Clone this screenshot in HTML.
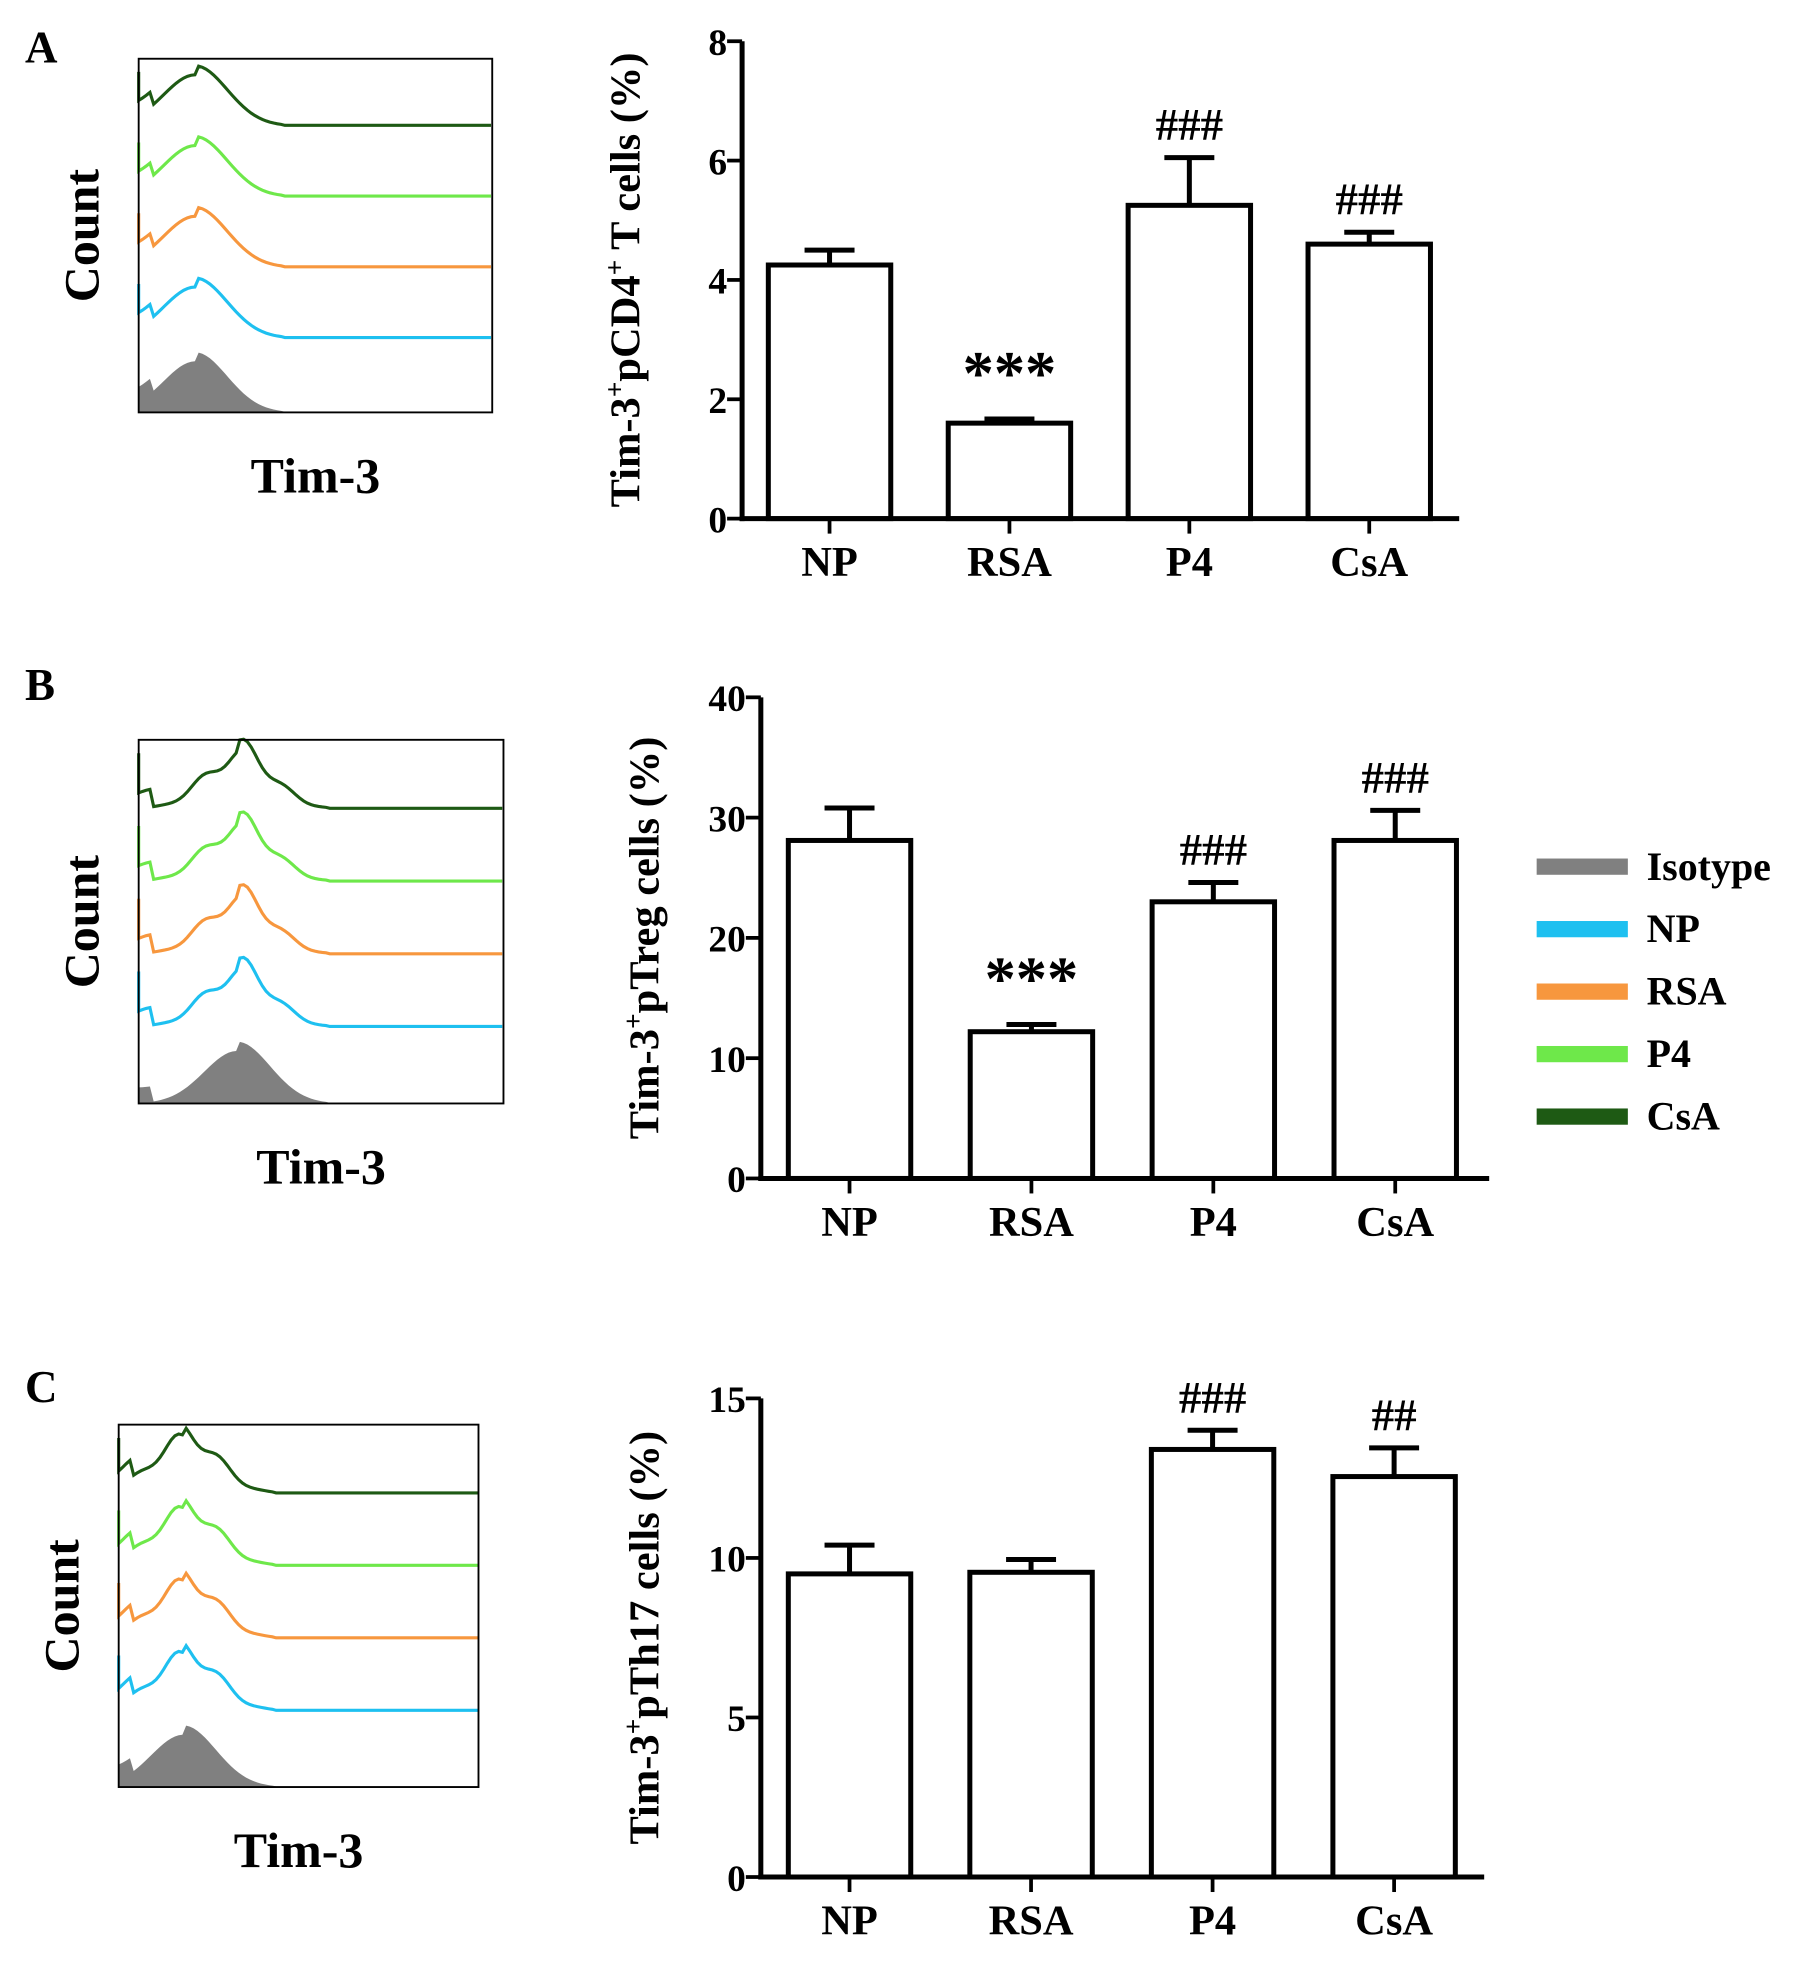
<!DOCTYPE html>
<html><head><meta charset="utf-8"><style>
html,body{margin:0;padding:0;background:#fff;}
svg{display:block;font-family:"Liberation Serif",serif;font-weight:bold;}
</style></head><body>
<svg id="fig" width="1819" height="1962" viewBox="0 0 1456 1570" preserveAspectRatio="none" xmlns="http://www.w3.org/2000/svg">
<text x="20" y="50" font-size="36">A</text>
<text x="20" y="560" font-size="36">B</text>
<text x="20" y="1122" font-size="36">C</text>
<g id="legend"></g>
</svg>
<script>
const categories = ["NP","RSA","P4","CsA"];
const valuesA = [4.25,1.6,5.25,4.6];
const errA = [0.25,0.07,0.8,0.2];
const valuesB = [28.1,12.2,23.0,28.1];
const errB = [2.7,0.6,1.6,2.5];
const valuesC = [9.5,9.55,13.4,12.55];
const errC = [0.9,0.4,0.6,0.9];
const ticksA = [0,2,4,6,8];
const ticksB = [0,10,20,30,40];
const ticksC = [0,5,10,15];
const sigA = ["","***","###","###"];
const sigB = ["","***","###","###"];
const sigC = ["","","###","##"];
const legendLabels = ["Isotype","NP","RSA","P4","CsA"];
const legendColors = ["#808080","#1ec0f0","#f7973e","#6ee84a","#1e5a14"];

const NS="http://www.w3.org/2000/svg";
const svg=document.getElementById('fig');
function mk(tag,attrs,parent){const e=document.createElementNS(NS,tag);for(const k in attrs)e.setAttribute(k,attrs[k]);(parent||svg).appendChild(e);return e;}

function barChart(cfg){
  const g=mk('g',{});
  
  
  const max=cfg.ticks[cfg.ticks.length-1];
  const y=v=>cfg.y0-(v/max)*(cfg.y0-cfg.yTop);
  const step=cfg.step, bw=98;
  const cx=i=>cfg.firstCx+i*step;
  cfg.values.forEach((v,i)=>{
    const top=y(v+cfg.err[i]);
    const eb=mk('path',{d:`M${cx(i)} ${y(v)} V${top} M${cx(i)-20} ${top} H${cx(i)+20}`,stroke:'#000','stroke-width':4,fill:'none'},g);
    
    
    const r=mk('rect',{x:cx(i)-bw/2,y:y(v),width:bw,height:cfg.y0-y(v),fill:'#fff',stroke:'#000','stroke-width':4},g);
    
    
    if(cfg.sig[i]){
      const star=cfg.sig[i]==='***';
      const t=mk('text',{x:cx(i),y:top-(star?20:14),'text-anchor':'middle','font-size':star?50:36},g);
      t.textContent=cfg.sig[i];
      
      
    }
    const tk=mk('line',{x1:cx(i),x2:cx(i),y1:cfg.y0,y2:cfg.y0+12,stroke:'#000','stroke-width':3},g);
    
    
    const lb=mk('text',{x:cx(i),y:cfg.y0+46,'text-anchor':'middle','font-size':34},g);
    lb.textContent=categories[i];
    
    
  });
  const ya=mk('line',{x1:cfg.x0,x2:cfg.x0,y1:cfg.yTop,y2:cfg.y0+2,stroke:'#000','stroke-width':4},g);
  
  
  const xa=mk('line',{x1:cfg.x0-2,x2:cfg.xEnd,y1:cfg.y0,y2:cfg.y0,stroke:'#000','stroke-width':4},g);
  
  
  cfg.ticks.forEach(t=>{
    const l=mk('line',{x1:cfg.x0-12,x2:cfg.x0,y1:y(t),y2:y(t),stroke:'#000','stroke-width':3},g);
    
    
    const tx=mk('text',{x:cfg.x0-12,y:y(t)+11,'text-anchor':'end','font-size':30},g);
    tx.textContent=t;
    
    
  });
  const yl=mk('text',{transform:`translate(${cfg.x0-82},${(cfg.y0+cfg.yTop)/2}) rotate(-90)`,'text-anchor':'middle','font-size':34},g);
  yl.innerHTML=cfg.label;
  
  
}
barChart({name:'chart-a',values:valuesA,err:errA,ticks:ticksA,sig:sigA,x0:594,xEnd:1168,y0:415,yTop:33,firstCx:664,step:144,
 label:'Tim-3<tspan dy="-13" font-size="22">+</tspan><tspan dy="13">pCD4</tspan><tspan dy="-13" font-size="22">+</tspan><tspan dy="13"> T cells  (%)</tspan>'});
barChart({name:'chart-b',values:valuesB,err:errB,ticks:ticksB,sig:sigB,x0:609,xEnd:1192,y0:943,yTop:558,firstCx:680,step:145.6,
 label:'Tim-3<tspan dy="-13" font-size="22">+</tspan><tspan dy="13">pTreg cells  (%)</tspan>'});
barChart({name:'chart-c',values:valuesC,err:errC,ticks:ticksC,sig:sigC,x0:609,xEnd:1188,y0:1502,yTop:1119,firstCx:680,step:145.3,
 label:'Tim-3<tspan dy="-13" font-size="22">+</tspan><tspan dy="13">pTh17 cells  (%)</tspan>'});

function histo(name,x0,y0,x1,y1,peakFrac,bumpy){
  const g=mk('g',{});
  
  
  const w=x1-x0,h=y1-y0,rowH=h/5;
  const px=x0+w*peakFrac;
  for(let r=0;r<5;r++){
    const base=y1-r*rowH-(r===0?0:rowH*0.05);
    const amp=rowH*0.85;
    let d=`M${x0} ${r===0?y1:base-amp*0.9}`;
    for(let x=x0;x<=x1;x+=3){
      let t=(x-px)/(w*0.09);
      let v=Math.exp(-t*t/2)*(x<px?0.85:1)+(x<x0+w*0.04?0.25:0);
      if(bumpy&&r>0) v*=1+0.15*Math.sin((x-x0)/6);
      if(x>px+w*0.25) v=0.01;
      d+=` L${x} ${base-v*amp}`;
    }
    if(r===0){d+=` L${x1} ${y1} Z`;}
    const p=mk('path',{d,fill:r===0?'#808080':'none',stroke:r===0?'none':legendColors[r],'stroke-width':2.5},g);
    
    
  }
  const b=mk('rect',{x:x0,y:y0,width:w,height:h,fill:'none',stroke:'#000','stroke-width':1.5},g);
  
  
  const c=mk('text',{transform:`translate(${x0-32},${(y0+y1)/2}) rotate(-90)`,'text-anchor':'middle','font-size':40},g);
  c.textContent='Count';
  
  
  const t=mk('text',{x:(x0+x1)/2,y:y1+64,'text-anchor':'middle','font-size':40},g);
  t.textContent='Tim-3';
  
  
}
histo('histogram-a',111,47,394,330,0.16,false);
histo('histogram-b',111,592,403,883,0.27,true);
histo('histogram-c',95,1140,383,1430,0.18,true);

const lg=document.getElementById('legend');
legendLabels.forEach((l,i)=>{
  const yy=693+i*50;
  const r=mk('rect',{x:1230,y:yy-6,width:73,height:13,fill:legendColors[i]},lg);
  
  
  const t=mk('text',{x:1318,y:yy+11,'font-size':32},lg);
  t.textContent=l;
  
  
});
</script>
</body></html>
